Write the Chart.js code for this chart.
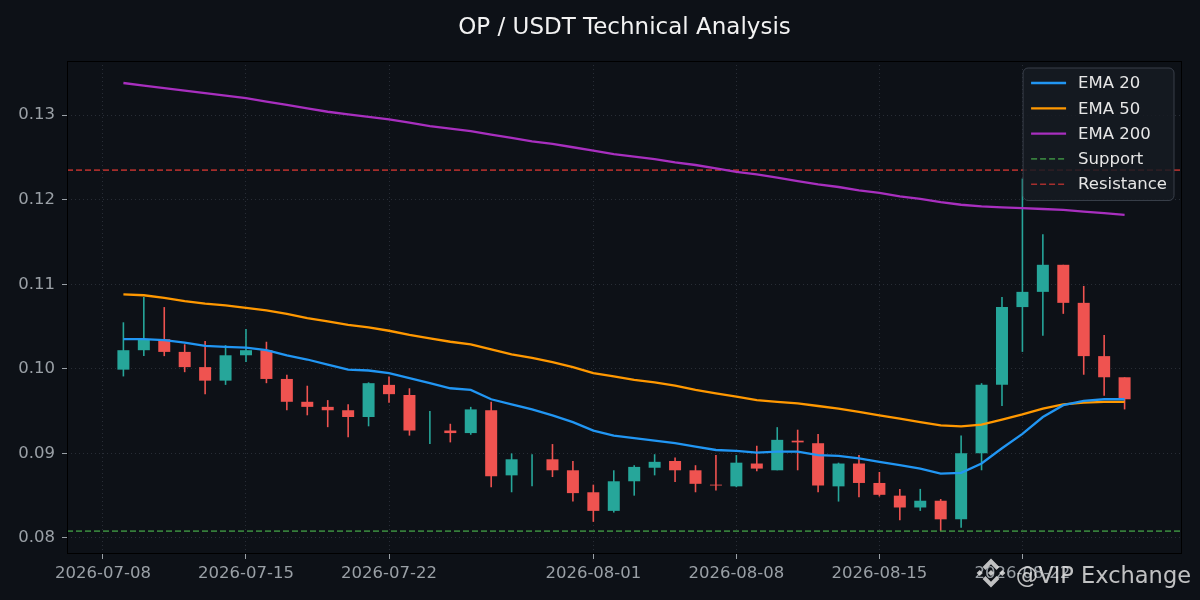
<!DOCTYPE html>
<html>
<head>
<meta charset="utf-8">
<title>OP / USDT Technical Analysis</title>
<script src="https://cdn.jsdelivr.net/npm/chart.js@4.4.1/dist/chart.umd.min.js"></script>
<style>
  html, body { margin: 0; padding: 0; background: #0d1117; }
  #wrap { width: 1200px; height: 600px; position: relative; }
</style>
</head>
<body>
<div id="wrap"><canvas id="chart"></canvas></div>
<script>
const pageColor = '#0d1117';
const upColor = '#26a69a';
const downColor = '#ef5350';
const fontFamily = '"DejaVu Sans", "Noto Sans", sans-serif';

const dates = [
    '2026-07-09', '2026-07-10', '2026-07-11', '2026-07-12', '2026-07-13', '2026-07-14', '2026-07-15',
    '2026-07-16', '2026-07-17', '2026-07-18', '2026-07-19', '2026-07-20', '2026-07-21', '2026-07-22',
    '2026-07-23', '2026-07-24', '2026-07-25', '2026-07-26', '2026-07-27', '2026-07-28', '2026-07-29',
    '2026-07-30', '2026-07-31', '2026-08-01', '2026-08-02', '2026-08-03', '2026-08-04', '2026-08-05',
    '2026-08-06', '2026-08-07', '2026-08-08', '2026-08-09', '2026-08-10', '2026-08-11', '2026-08-12',
    '2026-08-13', '2026-08-14', '2026-08-15', '2026-08-16', '2026-08-17', '2026-08-18', '2026-08-19',
    '2026-08-20', '2026-08-21', '2026-08-22', '2026-08-23', '2026-08-24', '2026-08-25', '2026-08-26',
    '2026-08-27'
];
const openP = [
    0.0999, 0.1022, 0.1035, 0.1020, 0.1002, 0.0986, 0.1016, 0.1022, 0.0988, 0.0961,
    0.0955, 0.0951, 0.0943, 0.0981, 0.0969, 0.0936, 0.0927, 0.0924, 0.0951, 0.0874,
    0.0893, 0.0893, 0.0880, 0.0854, 0.0832, 0.0867, 0.0883, 0.0891, 0.0880, 0.0863,
    0.0861, 0.0888, 0.0880, 0.0915, 0.0912, 0.0861, 0.0888, 0.0865, 0.0850, 0.0836,
    0.0844, 0.0822, 0.0900, 0.0981, 0.1073, 0.1091, 0.1123, 0.1078, 0.1015, 0.0990
];
const highP = [
    0.1055, 0.1085, 0.1073, 0.1029, 0.1033, 0.1028, 0.1047, 0.1032, 0.0993, 0.0980,
    0.0963, 0.0958, 0.0984, 0.0991, 0.0977, 0.0950, 0.0935, 0.0955, 0.0961, 0.0900,
    0.0899, 0.0911, 0.0891, 0.0863, 0.0880, 0.0886, 0.0899, 0.0895, 0.0886, 0.0898,
    0.0898, 0.0909, 0.0931, 0.0928, 0.0923, 0.0889, 0.0898, 0.0878, 0.0858, 0.0858,
    0.0846, 0.0921, 0.0983, 0.1085, 0.1225, 0.1159, 0.1123, 0.1098, 0.1040, 0.0990
];
const lowP = [
    0.0991, 0.1015, 0.1015, 0.0996, 0.0970, 0.0981, 0.1008, 0.0983, 0.0951, 0.0945,
    0.0931, 0.0919, 0.0932, 0.0960, 0.0921, 0.0911, 0.0913, 0.0922, 0.0860, 0.0854,
    0.0861, 0.0872, 0.0843, 0.0819, 0.0830, 0.0850, 0.0874, 0.0866, 0.0854, 0.0856,
    0.0860, 0.0879, 0.0880, 0.0880, 0.0854, 0.0843, 0.0848, 0.0849, 0.0821, 0.0832,
    0.0808, 0.0812, 0.0880, 0.0956, 0.1020, 0.1039, 0.1065, 0.0993, 0.0968, 0.0952
];
const closeP = [
    0.1022, 0.1035, 0.1020, 0.1002, 0.0986, 0.1016, 0.1022, 0.0988, 0.0961, 0.0955,
    0.0951, 0.0943, 0.0983, 0.0970, 0.0927, 0.0936, 0.0924, 0.0952, 0.0873, 0.0893,
    0.0893, 0.0880, 0.0853, 0.0832, 0.0867, 0.0884, 0.0890, 0.0880, 0.0864, 0.0862,
    0.0889, 0.0882, 0.0916, 0.0913, 0.0862, 0.0888, 0.0865, 0.0851, 0.0836, 0.0844,
    0.0822, 0.0900, 0.0981, 0.1073, 0.1091, 0.1123, 0.1078, 0.1015, 0.0990, 0.0964
];
const ema20 = [
    0.1035, 0.1035, 0.1034, 0.1031, 0.1027, 0.1026, 0.1025, 0.1022, 0.1016, 0.1011,
    0.1005, 0.0999, 0.0998, 0.0995, 0.0989, 0.0983, 0.0977, 0.0975, 0.0964, 0.0958,
    0.0952, 0.0945, 0.0937, 0.0927, 0.0921, 0.0918, 0.0915, 0.0912, 0.0908, 0.0904,
    0.0903, 0.0901, 0.0902, 0.0902, 0.0898, 0.0897, 0.0894, 0.0890, 0.0886, 0.0882,
    0.0876, 0.0877, 0.0888, 0.0906, 0.0923, 0.0943, 0.0957, 0.0962, 0.0964, 0.0964
];
const ema50 = [
    0.1088, 0.1087, 0.1084, 0.1080, 0.1077, 0.1075, 0.1072, 0.1069, 0.1065, 0.1060,
    0.1056, 0.1052, 0.1049, 0.1045, 0.1040, 0.1036, 0.1032, 0.1029, 0.1023, 0.1017,
    0.1013, 0.1008, 0.1002, 0.0995, 0.0991, 0.0987, 0.0984, 0.0980, 0.0975, 0.0971,
    0.0967, 0.0963, 0.0961, 0.0959, 0.0956, 0.0953, 0.0949, 0.0945, 0.0941, 0.0937,
    0.0933, 0.0932, 0.0934, 0.0940, 0.0946, 0.0953, 0.0958, 0.0960, 0.0961, 0.0961
];
const ema200 = [
    0.1338, 0.1335, 0.1332, 0.1329, 0.1326, 0.1323, 0.1320, 0.1316, 0.1312, 0.1308,
    0.1304, 0.1301, 0.1298, 0.1295, 0.1291, 0.1287, 0.1284, 0.1281, 0.1277, 0.1273,
    0.1269, 0.1266, 0.1262, 0.1258, 0.1254, 0.1251, 0.1248, 0.1244, 0.1241, 0.1237,
    0.1233, 0.1230, 0.1226, 0.1222, 0.1218, 0.1215, 0.1211, 0.1208, 0.1204, 0.1201,
    0.1197, 0.1194, 0.1192, 0.1191, 0.1190, 0.1189, 0.1188, 0.1186, 0.1184, 0.1182
];
const supportLevel = 0.0808;
const resistanceLevel = 0.1235;

const xTickLabels = ['2026-07-08', '2026-07-15', '2026-07-22', '2026-08-01', '2026-08-08', '2026-08-15', '2026-08-22'];
const yTicks = [0.08, 0.09, 0.10, 0.11, 0.12, 0.13];

// 横軸は 2026-07-08 からの日数
const baseDay = Date.UTC(2026, 6, 8);
const dayIndex = (s) => (Date.parse(s + 'T00:00:00Z') - baseDay) / 86400000;
const xMin = -1.76;
const xMax = 52.81;
const xTickDays = xTickLabels.map(dayIndex);
const days = dates.map(dayIndex);

const candleColors = closeP.map((c, i) => c >= openP[i] ? upColor : downColor);
const wickData = days.map((d, i) => ({ x: d, y: [lowP[i], highP[i]] }));
const bodyData = days.map((d, i) => ({ x: d, y: [Math.min(openP[i], closeP[i]), Math.max(openP[i], closeP[i])] }));
const lineData = (arr) => days.map((d, i) => ({ x: d, y: arr[i] }));

const bgPlugin = {
    id: 'bg',
    beforeDraw(chart) {
        const { ctx, width, height } = chart;
        ctx.save();
        ctx.fillStyle = pageColor;
        ctx.fillRect(0, 0, width, height);
        ctx.restore();
    }
};

const framePlugin = {
    id: 'frame',
    afterDraw(chart) {
        const { ctx, chartArea: a } = chart;
        ctx.save();
        // 枠線
        ctx.strokeStyle = '#000000';
        ctx.lineWidth = 1;
        ctx.strokeRect(a.left + 0.5, a.top + 0.5, a.right - a.left - 1, a.bottom - a.top - 1);

        // タイトル
        ctx.fillStyle = '#f2f2f2';
        ctx.font = `23px ${fontFamily}`;
        ctx.textAlign = 'center';
        ctx.textBaseline = 'middle';
        ctx.fillText('OP / USDT Technical Analysis', (a.left + a.right) / 2, 28);

        // 凡例
        const items = chart.data.datasets.filter(d => d.inLegend);
        const rowH = 25.3;
        ctx.font = `16.5px ${fontFamily}`;
        const textW = Math.max(...items.map(d => ctx.measureText(d.label).width));
        const w = 8 + 34 + 12 + textW + 8;
        const h = items.length * rowH + 6;
        const x = a.right - 8 - w;
        const y = a.top + 7;
        ctx.beginPath();
        ctx.roundRect(x, y, w, h, 5);
        ctx.fillStyle = 'rgba(22, 27, 34, 0.85)';
        ctx.fill();
        ctx.strokeStyle = 'rgba(60, 66, 78, 0.9)';
        ctx.lineWidth = 1;
        ctx.stroke();
        ctx.textAlign = 'left';
        items.forEach((d, i) => {
            const cy = y + 15 + i * rowH;
            ctx.beginPath();
            ctx.setLineDash(d.borderDash || []);
            ctx.strokeStyle = d.borderColor;
            ctx.lineWidth = d.borderWidth;
            ctx.moveTo(x + 8, cy);
            ctx.lineTo(x + 43, cy);
            ctx.stroke();
            ctx.setLineDash([]);
            ctx.fillStyle = '#e6e6e6';
            ctx.fillText(d.label, x + 55, cy + 1);
        });

        // ウォーターマーク
        drawLogo(ctx, 991, 573, 2.4);
        ctx.fillStyle = 'rgba(225, 225, 225, 0.85)';
        ctx.font = `22.5px ${fontFamily}`;
        ctx.textAlign = 'right';
        ctx.textBaseline = 'alphabetic';
        ctx.fillText('@VIP Exchange', 1191, 583);
        ctx.restore();
    }
};

function drawLogo(ctx, cx, cy, u) {
    ctx.save();
    ctx.fillStyle = 'rgba(225, 225, 225, 0.85)';
    const diamond = (x, y, r) => {
        ctx.beginPath();
        ctx.moveTo(x, y - r);
        ctx.lineTo(x + r, y);
        ctx.lineTo(x, y + r);
        ctx.lineTo(x - r, y);
        ctx.closePath();
        ctx.fill();
    };
    diamond(cx, cy, 1.3 * u);
    diamond(cx - 4.7 * u, cy, 1.3 * u);
    diamond(cx + 4.7 * u, cy, 1.3 * u);
    [-1, 1].forEach(s => {
        ctx.beginPath();
        ctx.moveTo(cx, cy + s * 6 * u);
        ctx.lineTo(cx + 3.5 * u, cy + s * 2.5 * u);
        ctx.lineTo(cx + 2.3 * u, cy + s * 1.3 * u);
        ctx.lineTo(cx, cy + s * 3.6 * u);
        ctx.lineTo(cx - 2.3 * u, cy + s * 1.3 * u);
        ctx.lineTo(cx - 3.5 * u, cy + s * 2.5 * u);
        ctx.closePath();
        ctx.fill();
    });
    ctx.restore();
}

new Chart(document.getElementById('chart').getContext('2d'), {
    type: 'bar',
    data: {
        datasets: [
            {
                type: 'line', label: 'EMA 20', data: lineData(ema20), inLegend: true,
                borderColor: '#2196f3', borderWidth: 2.3, pointRadius: 0, tension: 0, order: 1
            },
            {
                type: 'line', label: 'EMA 50', data: lineData(ema50), inLegend: true,
                borderColor: '#ff9800', borderWidth: 2.3, pointRadius: 0, tension: 0, order: 2
            },
            {
                type: 'line', label: 'EMA 200', data: lineData(ema200), inLegend: true,
                borderColor: '#a82fbf', borderWidth: 2.3, pointRadius: 0, tension: 0, order: 3
            },
            {
                type: 'line', label: 'Support', inLegend: true,
                data: [{ x: xMin, y: supportLevel }, { x: xMax, y: supportLevel }],
                borderColor: 'rgba(67, 160, 71, 0.75)', borderWidth: 1.6, borderDash: [6, 3],
                pointRadius: 0, order: 4
            },
            {
                type: 'line', label: 'Resistance', inLegend: true,
                data: [{ x: xMin, y: resistanceLevel }, { x: xMax, y: resistanceLevel }],
                borderColor: 'rgba(229, 57, 53, 0.7)', borderWidth: 1.6, borderDash: [6, 3],
                pointRadius: 0, order: 5
            },
            {
                label: 'Body', data: bodyData, backgroundColor: candleColors,
                barThickness: 12, grouped: false, borderWidth: 0, inflateAmount: 0, order: 6
            },
            {
                label: 'Wick', data: wickData, backgroundColor: candleColors,
                barThickness: 1.6, grouped: false, borderWidth: 0, inflateAmount: 0, order: 7
            }
        ]
    },
    options: {
        responsive: true,
        maintainAspectRatio: false,
        animation: false,
        layout: { padding: { top: 61, left: 0, right: 18, bottom: 0 } },
        plugins: {
            legend: { display: false },
            title: { display: false },
            tooltip: { enabled: false }
        },
        scales: {
            x: {
                type: 'linear',
                min: xMin,
                max: xMax,
                offset: false,
                afterFit: (scale) => { scale.height = 46; },
                afterBuildTicks: (scale) => { scale.ticks = xTickDays.map(v => ({ value: v })); },
                ticks: {
                    color: '#9aa0a6',
                    font: { family: fontFamily, size: 16.5 },
                    padding: 5,
                    maxRotation: 0,
                    autoSkip: false,
                    callback: (v) => xTickLabels[xTickDays.indexOf(v)] || ''
                },
                grid: {
                    offset: false,
                    color: 'rgba(150, 160, 180, 0.2)',
                    tickColor: '#9aa0a6',
                    tickLength: 5,
                    tickWidth: 1
                },
                border: { display: false, dash: [1, 3] }
            },
            y: {
                type: 'linear',
                min: 0.0781,
                max: 0.1364,
                afterFit: (scale) => { scale.width = 67; },
                afterBuildTicks: (scale) => { scale.ticks = yTicks.map(v => ({ value: v })); },
                ticks: {
                    color: '#9aa0a6',
                    font: { family: fontFamily, size: 16.5 },
                    padding: 7,
                    callback: (v) => v.toFixed(2)
                },
                grid: {
                    color: 'rgba(150, 160, 180, 0.2)',
                    tickColor: '#9aa0a6',
                    tickLength: 5,
                    tickWidth: 1
                },
                border: { display: false, dash: [1, 3] }
            }
        }
    },
    plugins: [bgPlugin, framePlugin]
});
</script>
</body>
</html>
